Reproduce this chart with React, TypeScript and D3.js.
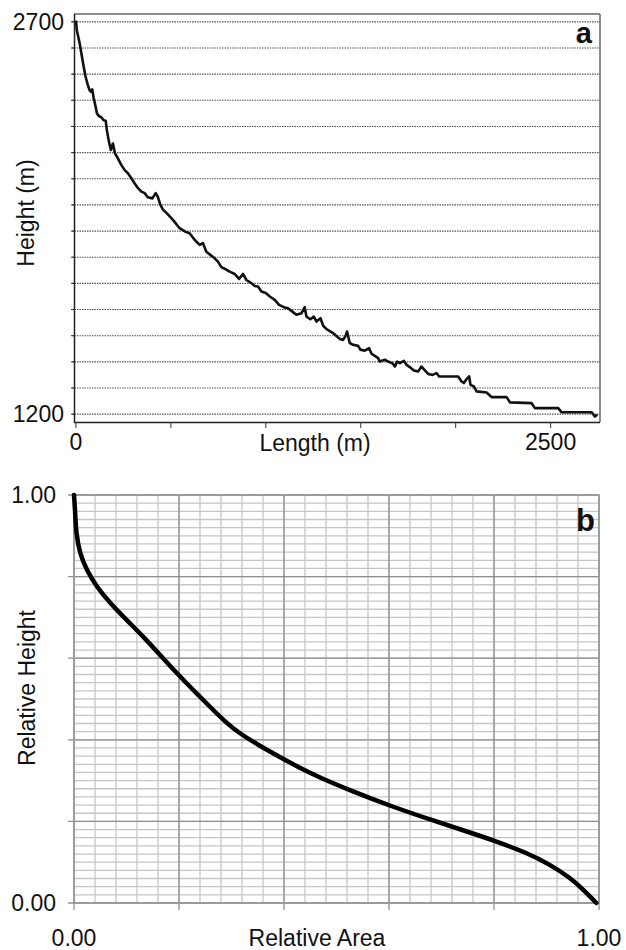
import * as d3 from 'd3'

// panel a: longitudinal profile
const lengthM = [0, 5, 20, 29, 41, 51, 63, 72, 79, 86, 93, 104, 111, 121, 134, 146, 157, 163, 174, 184, 195, 206, 221, 239, 257, 274, 292, 309, 327, 345, 362, 379, 403, 420, 431, 445, 458, 483, 511, 546, 578, 599, 626, 652, 669, 687, 708, 731, 748, 766, 789, 810, 836, 859, 880, 898, 924, 942, 959, 977, 1000, 1021, 1047, 1070, 1095, 1117, 1140, 1161, 1188, 1205, 1214, 1235, 1253, 1267, 1288, 1302, 1320, 1354, 1390, 1407, 1421, 1428, 1442, 1460, 1486, 1499, 1521, 1544, 1557, 1574, 1592, 1600, 1627, 1644, 1667, 1680, 1692, 1706, 1727, 1741, 1758, 1780, 1802, 1820, 1838, 1855, 1878, 1899, 1913, 2013, 2031, 2043, 2057, 2071, 2078, 2096, 2110, 2163, 2189, 2268, 2286, 2400, 2417, 2540, 2558, 2716, 2733, 2746]
const heightM = [2705, 2668, 2617, 2579, 2528, 2490, 2458, 2439, 2433, 2442, 2411, 2375, 2350, 2340, 2335, 2324, 2322, 2286, 2242, 2210, 2235, 2197, 2178, 2153, 2133, 2121, 2102, 2083, 2064, 2051, 2045, 2029, 2025, 2045, 2032, 2000, 1983, 1965, 1943, 1911, 1897, 1892, 1866, 1847, 1854, 1821, 1809, 1796, 1783, 1762, 1754, 1745, 1736, 1717, 1736, 1713, 1701, 1690, 1688, 1669, 1663, 1650, 1637, 1618, 1609, 1605, 1592, 1580, 1586, 1609, 1573, 1563, 1573, 1554, 1567, 1538, 1525, 1510, 1487, 1484, 1500, 1516, 1472, 1465, 1461, 1446, 1443, 1452, 1431, 1423, 1414, 1401, 1408, 1401, 1395, 1382, 1401, 1395, 1404, 1389, 1380, 1367, 1363, 1382, 1367, 1354, 1350, 1357, 1344, 1344, 1325, 1319, 1334, 1344, 1312, 1306, 1287, 1283, 1265, 1265, 1245, 1242, 1223, 1223, 1207, 1207, 1191, 1198]
const heightLabels = [1200, 2700]
const lengthTicks = [0, 500, 1000, 1500, 2000, 2500]
const lengthLabels = [0, 2500]

// panel b: hypsometric curve
const relArea = [0, 0.002, 0.004, 0.011, 0.024, 0.043, 0.069, 0.1, 0.132, 0.164, 0.196, 0.227, 0.259, 0.288, 0.316, 0.354, 0.392, 0.43, 0.469, 0.526, 0.602, 0.684, 0.749, 0.8, 0.863, 0.907, 0.945, 0.97, 0.989, 0.995]
const relHeight = [1, 0.963, 0.906, 0.857, 0.816, 0.775, 0.735, 0.694, 0.653, 0.608, 0.563, 0.522, 0.481, 0.444, 0.415, 0.385, 0.358, 0.331, 0.307, 0.276, 0.238, 0.202, 0.175, 0.153, 0.123, 0.094, 0.062, 0.033, 0.008, 0]
const relLabels = ['0.00', '1.00']

const FONT = '"Liberation Sans", Arial, sans-serif'

export default function App() {
  // ---- panel a scales
  const xA = d3.scaleLinear().domain([-10, 2760]).range([74, 600])
  const yA = d3.scaleLinear().domain([1170, 2730]).range([422, 14])
  const gridA = d3.range(1200, 2701, 100)
  const lineA = d3.line<number>()
    .x((d, i) => xA(lengthM[i]))
    .y(d => yA(d))

  // ---- panel b scales
  const xB = d3.scaleLinear().domain([0, 1]).range([74, 599])
  const yB = d3.scaleLinear().domain([0, 1]).range([903, 495])
  const minorH = d3.range(0, 1.0001, 0.02)
  const minorV = d3.range(0, 1.0001, 0.04)
  const major = d3.range(0, 1.0001, 0.2)
  const lineB = d3.line<number>()
    .x((d, i) => xB(relArea[i]))
    .y(d => yB(d))
    .curve(d3.curveBasis)

  return (
    <>
      <style>{`body{margin:0}`}</style>
      <svg width={626} height={950} style={{ display: 'block', background: '#fff' }} fontFamily={FONT}>
        {/* ===== panel a ===== */}
        <g>
          {gridA.map(v => (
            <line key={v} x1={72} x2={600} y1={yA(v)} y2={yA(v)}
              stroke="#555" strokeWidth={1.1} strokeDasharray="1.5,1" />
          ))}
          {gridA.map(v => (
            <line key={'t' + v} x1={71} x2={75} y1={yA(v)} y2={yA(v)} stroke="#333" strokeWidth={1} />
          ))}
          <line x1={74} x2={600} y1={14} y2={14} stroke="#666" strokeWidth={1.5} />
          <line x1={600} x2={600} y1={14} y2={422} stroke="#666" strokeWidth={1.5} />
          <line x1={74.5} x2={74.5} y1={14} y2={423} stroke="#222" strokeWidth={1.5} />
          <line x1={74} x2={600} y1={422.5} y2={422.5} stroke="#222" strokeWidth={1.5} />
          {lengthTicks.map(v => (
            <line key={v} x1={xA(v)} x2={xA(v)} y1={422} y2={428} stroke="#333" strokeWidth={1} />
          ))}
          <path d={lineA(heightM) || ''} fill="none" stroke="#111" strokeWidth={2.6} strokeLinejoin="round" />
          {heightLabels.map(v => (
            <text key={v} x={64} y={yA(v)} dy="0.36em" textAnchor="end" fontSize={23} fill="#111">{v}</text>
          ))}
          {lengthLabels.map(v => (
            <text key={v} x={xA(v)} y={450} textAnchor="middle" fontSize={23} fill="#111">{v}</text>
          ))}
          <text x={315} y={451} textAnchor="middle" fontSize={23} fill="#111">Length (m)</text>
          <text transform="translate(34,213) rotate(-90)" textAnchor="middle" fontSize={23} fill="#111">Height (m)</text>
          <text x={592} y={43} textAnchor="end" fontSize={29} fontWeight="bold" fill="#111">a</text>
        </g>

        {/* ===== panel b ===== */}
        <g>
          {minorH.map(v => (
            <line key={'mh' + v} x1={74} x2={599} y1={yB(v)} y2={yB(v)} stroke="#c6c6c6" strokeWidth={1.3} />
          ))}
          {minorV.map(v => (
            <line key={'mv' + v} x1={xB(v)} x2={xB(v)} y1={495} y2={903} stroke="#c6c6c6" strokeWidth={1.3} />
          ))}
          {major.map(v => (
            <g key={'mj' + v}>
              <line x1={68} x2={599} y1={yB(v)} y2={yB(v)} stroke="#8f8f8f" strokeWidth={1.3} />
              <line x1={xB(v)} x2={xB(v)} y1={495} y2={910} stroke="#8f8f8f" strokeWidth={1.3} />
            </g>
          ))}
          <rect x={74} y={495} width={525} height={408} fill="none" stroke="#999" strokeWidth={1.5} />
          <path d={lineB(relHeight) || ''} fill="none" stroke="#000" strokeWidth={4.5} strokeLinecap="round" strokeLinejoin="round" />
          {relLabels.map((t, i) => (
            <text key={'y' + t} x={56} y={yB(i)} dy="0.36em" textAnchor="end" fontSize={23} fill="#111">{t}</text>
          ))}
          {relLabels.map((t, i) => (
            <text key={'x' + t} x={xB(i)} y={946} textAnchor="middle" fontSize={23} fill="#111">{t}</text>
          ))}
          <text x={317} y={946} textAnchor="middle" fontSize={23} fill="#111">Relative Area</text>
          <text transform="translate(35,688) rotate(-90)" textAnchor="middle" fontSize={23} fill="#111">Relative Height</text>
          <text x={595} y={531} textAnchor="end" fontSize={31} fontWeight="bold" fill="#111">b</text>
        </g>
      </svg>
    </>
  )
}
